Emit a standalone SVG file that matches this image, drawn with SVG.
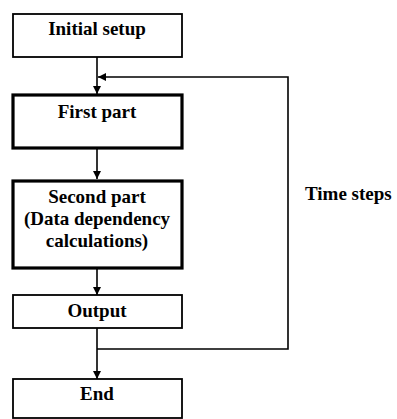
<svg xmlns="http://www.w3.org/2000/svg" width="397" height="419" viewBox="0 0 397 419">
<defs>
<style>
.box{fill:#fff;stroke:#000;stroke-width:1.8}
.thick{fill:#fff;stroke:#000;stroke-width:3.2}
text{font-family:'Liberation Serif','Times New Roman',Times,serif;font-weight:bold;font-size:19px;fill:#000;text-anchor:middle}
.conn{fill:none;stroke:#000;stroke-width:1.6}
</style>
<marker id="arr" viewBox="0 0 10 10" refX="10" refY="5" markerWidth="5" markerHeight="5" markerUnits="strokeWidth" orient="auto">
<path d="M0,0 L10,5 L0,10 z" fill="#000"/>
</marker>
</defs>
<g id="connectors">
<line class="conn" x1="97" y1="57" x2="97" y2="94" marker-end="url(#arr)"/>
<polyline class="conn" points="97,349 288,349 288,77 98,77" marker-end="url(#arr)"/>
<line class="conn" x1="97" y1="148" x2="97" y2="179" marker-end="url(#arr)"/>
<line class="conn" x1="97" y1="268" x2="97" y2="295" marker-end="url(#arr)"/>
<line class="conn" x1="97" y1="328" x2="97" y2="379" marker-end="url(#arr)"/>
</g>
<g id="initial">
<rect class="box" x="13" y="14" width="169" height="43"/>
<text x="97" y="35" font-family="Liberation Serif, serif">Initial setup</text>
</g>
<g id="first">
<rect class="thick" x="13" y="95" width="169" height="53"/>
<text x="97" y="118" font-family="Liberation Serif, serif">First part</text>
</g>
<g id="second">
<rect class="thick" x="13" y="181" width="169" height="87"/>
<text x="97" y="203" font-family="Liberation Serif, serif">Second part</text>
<text x="97" y="225" font-family="Liberation Serif, serif">(Data dependency</text>
<text x="97" y="247" font-family="Liberation Serif, serif">calculations)</text>
</g>
<g id="output">
<rect class="box" x="13" y="295" width="169" height="33"/>
<text x="97" y="317" font-family="Liberation Serif, serif">Output</text>
</g>
<g id="end">
<rect class="box" x="13" y="379" width="169" height="39"/>
<text x="97" y="400" font-family="Liberation Serif, serif">End</text>
</g>
<g id="timesteps">
<text x="305" y="200" font-family="Liberation Serif, serif" style="text-anchor:start">Time steps</text>
</g>
</svg>
